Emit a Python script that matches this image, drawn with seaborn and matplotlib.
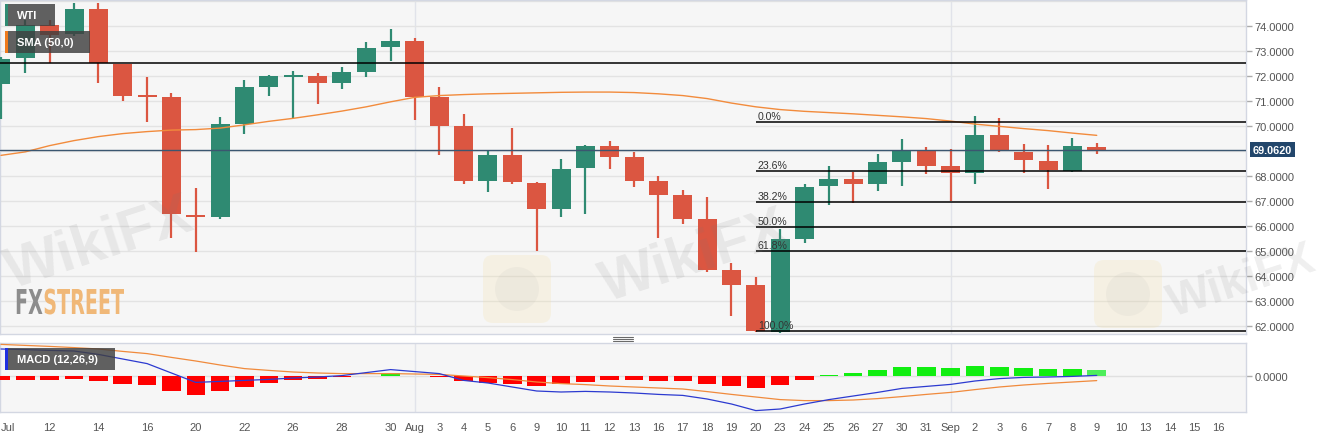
import numpy as np
import pandas as pd
import seaborn as sns
import matplotlib.pyplot as plt
import matplotlib.transforms as mtransforms
from matplotlib.patches import Rectangle, PathPatch, FancyBboxPatch
from matplotlib.lines import Line2D
from matplotlib.textpath import TextPath
from matplotlib.font_manager import FontProperties

# trading days on the axis (last five have no candles yet)
days = pd.to_datetime([
    '2021-07-08', '2021-07-09', '2021-07-12', '2021-07-13', '2021-07-14', '2021-07-15', '2021-07-16',
    '2021-07-19', '2021-07-20', '2021-07-21', '2021-07-22', '2021-07-23', '2021-07-26', '2021-07-27',
    '2021-07-28', '2021-07-29', '2021-07-30', '2021-08-02', '2021-08-03', '2021-08-04', '2021-08-05',
    '2021-08-06', '2021-08-09', '2021-08-10', '2021-08-11', '2021-08-12', '2021-08-13', '2021-08-16',
    '2021-08-17', '2021-08-18', '2021-08-19', '2021-08-20', '2021-08-23', '2021-08-24', '2021-08-25',
    '2021-08-26', '2021-08-27', '2021-08-30', '2021-08-31', '2021-09-01', '2021-09-02', '2021-09-03',
    '2021-09-06', '2021-09-07', '2021-09-08', '2021-09-09', '2021-09-10', '2021-09-13', '2021-09-14',
    '2021-09-15', '2021-09-16'])

# WTI daily OHLC
opens = [71.68, 72.71, 74.04, 73.67, 74.70, 72.49, 71.22, 71.16, 66.45, 66.36, 70.10, 71.56,
         71.98, 72.02, 71.73, 72.16, 73.15, 73.42, 71.16, 69.99, 67.80, 68.86, 67.73, 66.67,
         68.33, 69.19, 68.75, 67.80, 67.23, 66.27, 64.24, 63.65, 61.76, 65.50, 67.59, 67.89,
         67.69, 68.58, 69.02, 68.39, 68.12, 69.63, 68.97, 68.61, 68.22, 69.18]
highs = [72.75, 74.25, 74.24, 74.93, 74.93, 72.50, 71.96, 71.32, 67.51, 70.36, 71.85, 72.05,
         72.21, 72.13, 72.35, 73.35, 73.87, 73.51, 71.56, 70.48, 69.06, 69.94, 67.75, 68.70,
         69.23, 69.42, 68.98, 68.02, 67.43, 67.17, 64.51, 63.97, 65.90, 67.70, 68.42, 68.17,
         68.90, 69.50, 69.18, 69.07, 70.41, 70.32, 69.30, 69.25, 69.54, 69.33]
lows = [70.28, 72.14, 72.54, 73.60, 71.74, 71.02, 70.15, 65.53, 64.98, 66.30, 69.70, 71.21,
        70.32, 70.90, 71.50, 71.98, 72.62, 70.23, 68.86, 67.69, 67.36, 67.69, 65.01, 66.36,
        66.50, 68.29, 67.57, 65.53, 66.10, 64.15, 62.39, 61.78, 61.72, 65.34, 66.84, 66.92,
        67.39, 67.60, 68.08, 66.99, 67.69, 68.95, 68.13, 67.49, 68.16, 68.87]
closes = [72.67, 74.04, 73.64, 74.70, 72.54, 71.21, 71.16, 66.50, 66.35, 70.10, 71.56, 72.00,
          72.02, 71.73, 72.16, 73.14, 73.42, 71.18, 69.99, 67.80, 68.86, 67.76, 66.67, 68.30,
          69.19, 68.77, 67.80, 67.24, 66.30, 64.25, 63.65, 61.82, 65.47, 67.57, 67.89, 67.69,
          68.55, 69.02, 68.42, 68.13, 69.63, 68.99, 68.63, 68.24, 69.19, 69.06]

# SMA(50)
sma50 = [68.83, 68.97, 69.22, 69.42, 69.58, 69.70, 69.78, 69.84, 69.86, 69.92, 70.05, 70.19,
         70.31, 70.45, 70.60, 70.77, 70.97, 71.15, 71.22, 71.26, 71.29, 71.31, 71.33, 71.35,
         71.36, 71.36, 71.34, 71.29, 71.22, 71.10, 70.92, 70.77, 70.66, 70.59, 70.54, 70.49,
         70.43, 70.37, 70.30, 70.20, 70.08, 69.99, 69.90, 69.82, 69.72, 69.63]

# MACD (12,26,9)
macd_line = [1.35, 1.32, 1.28, 1.25, 1.08, 0.85, 0.62, 0.15, -0.32, -0.27, -0.22, -0.17,
             -0.10, -0.05, 0.02, 0.17, 0.32, 0.22, 0.12, -0.22, -0.35, -0.55, -0.75, -0.80,
             -0.77, -0.80, -0.85, -0.92, -0.97, -1.15, -1.40, -1.73, -1.65, -1.40, -1.18, -1.00,
             -0.82, -0.62, -0.52, -0.42, -0.25, -0.13, -0.07, -0.05, -0.02, 0.03]
signal_line = [1.58, 1.53, 1.48, 1.42, 1.35, 1.23, 1.12, 0.93, 0.75, 0.55, 0.37, 0.28,
               0.20, 0.15, 0.12, 0.12, 0.12, 0.10, 0.08, 0.00, -0.08, -0.18, -0.30, -0.38,
               -0.43, -0.50, -0.55, -0.60, -0.65, -0.78, -0.92, -1.05, -1.18, -1.23, -1.23, -1.20,
               -1.13, -1.03, -0.92, -0.82, -0.68, -0.55, -0.45, -0.37, -0.30, -0.23]
macd_hist = [-0.22, -0.22, -0.18, -0.17, -0.25, -0.38, -0.47, -0.77, -0.93, -0.77, -0.55, -0.35,
             -0.22, -0.13, -0.07, 0.02, 0.15, 0.02, -0.07, -0.27, -0.33, -0.42, -0.50, -0.42,
             -0.30, -0.22, -0.22, -0.23, -0.27, -0.40, -0.50, -0.60, -0.43, -0.18, 0.03, 0.15,
             0.32, 0.43, 0.43, 0.42, 0.50, 0.47, 0.42, 0.37, 0.33, 0.32]

# levels
resistance = 72.53
last_price = 69.062
fib_high = 70.16
fib_low = 61.80
fib_ratios = [0.0, 0.236, 0.382, 0.5, 0.618, 1.0]
fib_start = 31  # Aug 20 low
price_ticks = [62, 63, 64, 65, 66, 67, 68, 70, 71, 72, 73, 74]
grid_levels = list(range(62, 76))

# colors
up_color = '#2f8a72'
down_color = '#db5641'
sma_color = '#f28b3c'
macd_color = '#2c3ad0'
signal_color = '#f08a3c'
panel_bg = '#f6f6f6'
border = '#d3d7e2'

sns.set_style('white')
plt.rcParams['font.family'] = ['Liberation Sans', 'DejaVu Sans']

W, H = 1323, 439
fig = plt.figure(figsize=(W / 100, H / 100), dpi=100)
fig.patch.set_facecolor('white')
ax = fig.add_axes([0, 1 - 335 / H, 1246 / W, 334 / H])
axm = fig.add_axes([0, 1 - 413 / H, 1246 / W, 69 / H], sharex=ax)
disp = mtransforms.IdentityTransform()

df = pd.DataFrame({'open': opens, 'high': highs, 'low': lows, 'close': closes, 'sma': sma50,
                   'macd': macd_line, 'signal': signal_line, 'hist': macd_hist})
df['x'] = np.arange(len(df))
colors = np.where(df['close'] >= df['open'], up_color, down_color)

for a in (ax, axm):
    a.set_facecolor(panel_bg)
    for s in a.spines.values():
        s.set_color(border)
        s.set_linewidth(1)
    a.set_xlim(-0.04, 51.13)
    for m in (17, 39):
        a.axvline(m, color='#e1e3ea', lw=1, zorder=1)

# main panel
for lv in grid_levels:
    ax.axhline(lv, color='#e3e3e3', lw=1, zorder=1)
ax.vlines(df['x'], df['low'], df['high'], colors=colors, lw=1.6, zorder=3)
body = (df['close'] - df['open']).abs().clip(lower=0.07)
ax.bar(df['x'], body, bottom=df[['open', 'close']].min(axis=1), width=0.78,
       color=colors, linewidth=0, zorder=4)
sns.lineplot(x=df['x'], y=df['sma'], ax=ax, color=sma_color, linewidth=1.0, zorder=5)

ax.axhline(resistance, color='black', lw=1.1, zorder=6)
ax.axhline(last_price, color='#3b5670', lw=1.0, zorder=6)
for r in fib_ratios:
    lv = fib_high - r * (fib_high - fib_low)
    ax.hlines(lv, fib_start, 51.13, color='black', lw=1.1, zorder=6)
    ax.annotate(f'{r * 100:.1f}%', (fib_start, lv), xytext=(1.5, 2.2), textcoords='offset points',
                ha='left', va='baseline', fontsize=7.6, color='#333333', zorder=7)

ax.set_ylim(61.69, 75.04)
ax.yaxis.tick_right()
ax.set_yticks(price_ticks)
ax.set_yticklabels([f'{t:.4f}' for t in price_ticks])
ax.tick_params(axis='y', length=4, width=1, color='#aaaaaa', labelsize=8, labelcolor='#555555', pad=2)
ax.tick_params(axis='x', bottom=False, labelbottom=False)
ax.set_xlabel(None)
ax.set_ylabel(None)

tag_tr = mtransforms.blended_transform_factory(ax.transAxes, ax.transData)
ax.text(1.0056, last_price, f'{last_price:.4f}', transform=tag_tr, ha='left', va='center',
        fontsize=7.8, weight='bold', color='white', clip_on=False, zorder=20,
        bbox=dict(boxstyle='square,pad=0.25', fc='#22466b', ec='none'))

# MACD panel
axm.axhline(0, color='#e0e0e0', lw=1, zorder=1)
hist_colors = np.where(df['hist'] >= 0, '#11ee11', '#ff0000')
hist_colors[-1] = '#4dee5a'
axm.bar(df['x'], df['hist'], width=0.76, color=hist_colors, linewidth=0, zorder=3)
sns.lineplot(x=df['x'], y=df['signal'], ax=axm, color=signal_color, linewidth=0.9, zorder=4)
sns.lineplot(x=df['x'], y=df['macd'], ax=axm, color=macd_color, linewidth=0.9, zorder=5)
axm.set_ylim(-1.8, 1.65)
axm.yaxis.tick_right()
axm.set_yticks([0])
axm.set_yticklabels(['0.0000'])
axm.tick_params(axis='y', length=4, width=1, color='#aaaaaa', labelsize=8, labelcolor='#555555', pad=2)
axm.set_xlabel(None)
axm.set_ylabel(None)

tick_idx = [0, 2, 4, 6, 8, 10, 12, 14, 16] + list(range(17, len(days)))
tick_labels = []
prev = None
for i in tick_idx:
    d = days[i]
    tick_labels.append(d.strftime('%b') if d.month != prev else str(d.day))
    prev = d.month
axm.set_xticks(tick_idx)
axm.set_xticklabels(tick_labels)
axm.tick_params(axis='x', length=4, width=1, color='#bbbbbb', labelsize=8, labelcolor='#555555', pad=3)
axm.get_xticklabels()[0].set_ha('left')

# separator handle
for yy in (338, 340, 342):
    fig.add_artist(Line2D([613, 633], [H - yy, H - yy], color='#6a6a6a', lw=0.8, transform=disp))

# label boxes
def label_box(x0, y0, w, h, stripe, text):
    fig.add_artist(Rectangle((x0, H - y0 - h), w, h, fc='#3f3f3f', ec='none', alpha=0.82,
                             transform=disp, zorder=8))
    fig.add_artist(Rectangle((x0, H - y0 - h), 2.5, h, fc=stripe, ec='none',
                             transform=disp, zorder=9))
    fig.text(x0 + 12, H - y0 - h / 2, text, transform=disp, ha='left', va='center',
             fontsize=8, weight='bold', color='white', zorder=10)

label_box(5, 5, 50, 22, up_color, 'WTI')
label_box(5, 32, 85, 22, '#f07a1c', 'SMA (50,0)')
label_box(5, 349, 110, 22, '#1f2fe0', 'MACD (12,26,9)')

# watermarks
for cx, cy, fs in [(100, 245, 42), (695, 258, 42), (1242, 282, 33)]:
    fig.text(cx, H - cy, 'WikiFX', transform=disp, ha='center', va='center', rotation=18,
             fontsize=fs, weight='bold', color='#777777', alpha=0.12, zorder=11)
for cx, cy in [(517, 290), (1128, 295)]:
    fig.add_artist(FancyBboxPatch((cx - 34, H - cy - 34), 68, 68, boxstyle='round,pad=0,rounding_size=10',
                                  fc='#f3dfa0', ec='none', alpha=0.22, transform=disp, zorder=11))
    fig.add_artist(FancyBboxPatch((cx - 22, H - cy - 22), 44, 44, boxstyle='circle,pad=0',
                                  fc='#9a9a9a', ec='none', alpha=0.08, transform=disp, zorder=11))

# FXSTREET logo
fp = FontProperties(family='DejaVu Sans', weight='bold')
p1 = TextPath((0, 0), 'FX', size=100, prop=fp)
adv = p1.get_extents().x1 + 4
p2 = TextPath((adv, 0), 'STREET', size=100, prop=fp)
total_w = p2.get_extents().x1
cap_h = p1.get_extents().y1
logo_tr = mtransforms.Affine2D().scale(109 / total_w, 25 / cap_h).translate(15, H - 315)
fig.add_artist(PathPatch(p1, transform=logo_tr, fc='#8d8d8d', ec='none', zorder=11))
fig.add_artist(PathPatch(p2, transform=logo_tr, fc='#f0b878', ec='none', zorder=11))

plt.savefig('out.png', dpi=100)
